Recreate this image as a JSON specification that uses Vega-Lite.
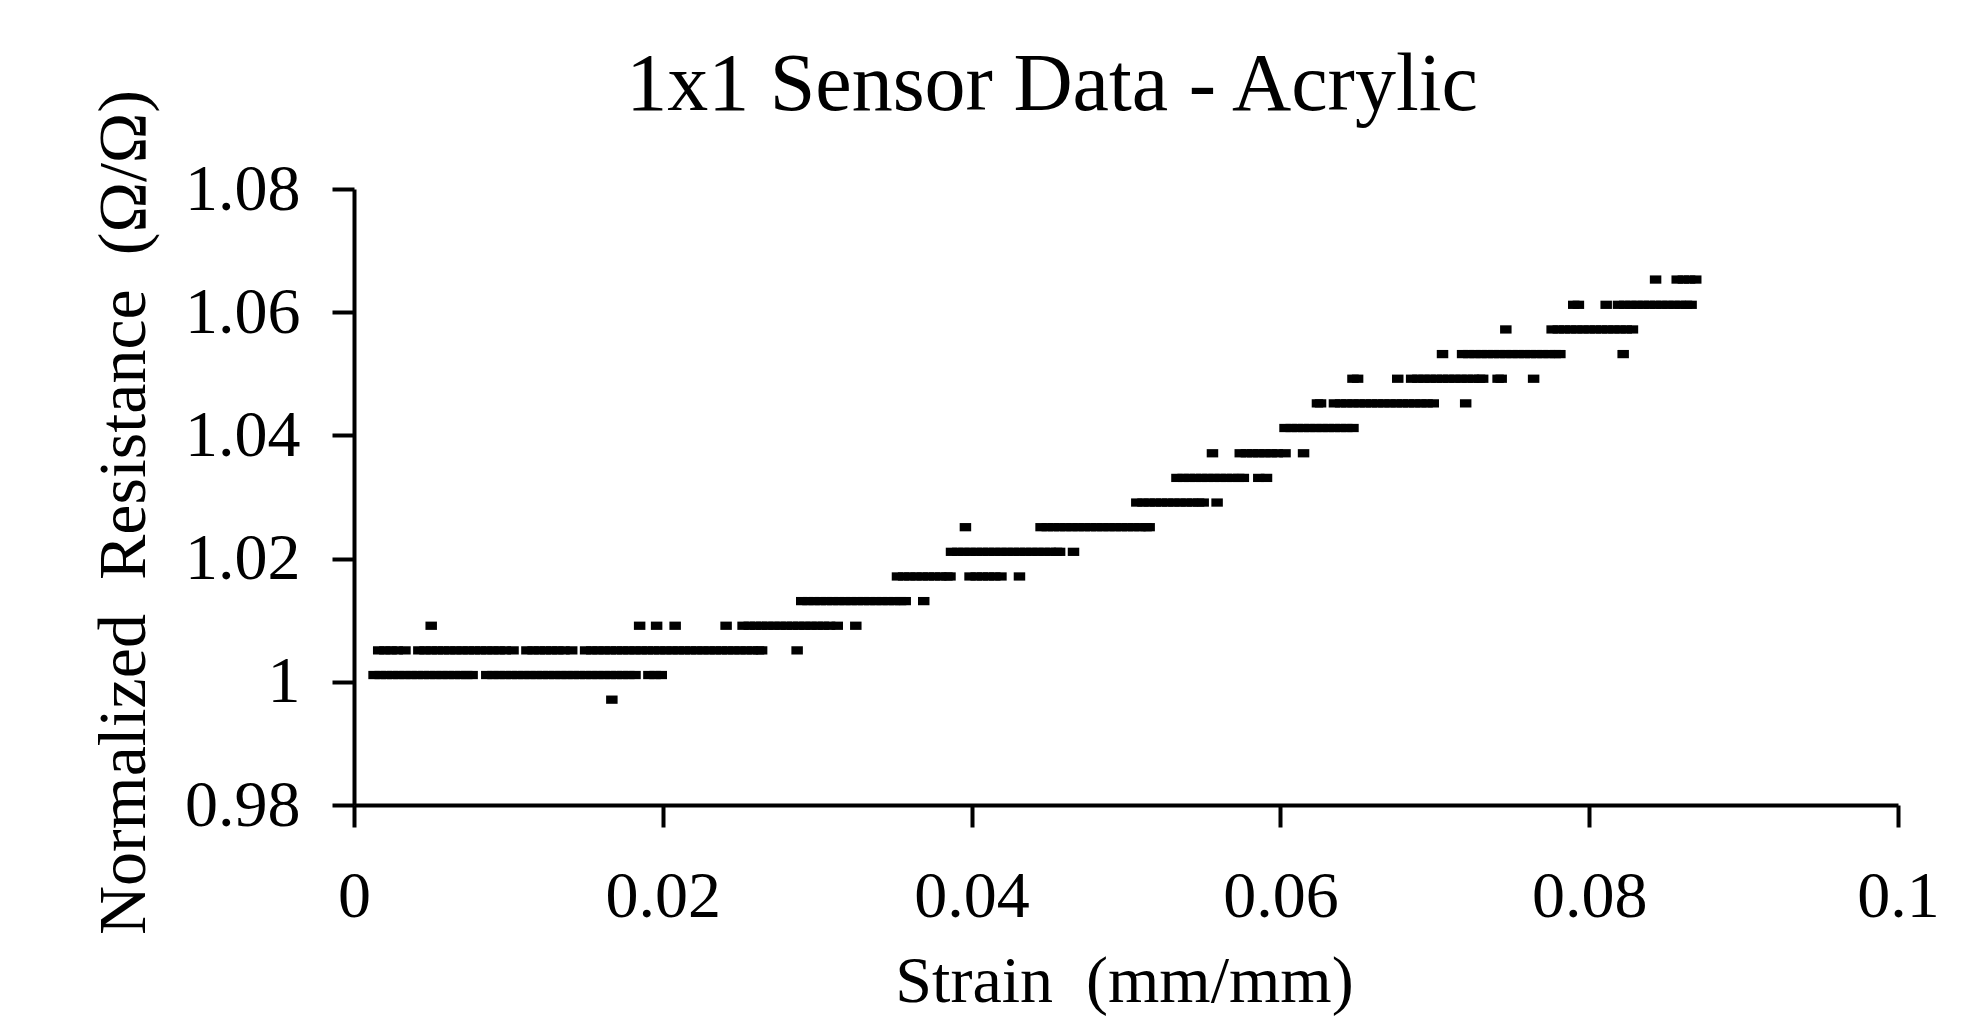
{
  "$schema": "https://vega.github.io/schema/vega-lite/v6.json",
  "autosize": "none",
  "width": 1544,
  "height": 616,
  "padding": {"left": 354, "top": 189, "right": 65, "bottom": 219},
  "background": "white",
  "config": {
    "view": {"stroke": null},
    "font": "Liberation Serif"
  },
  "title": {
    "text": "1x1 Sensor Data - Acrylic",
    "font": "Liberation Serif",
    "fontSize": 82,
    "fontWeight": "normal",
    "color": "black",
    "anchor": "middle",
    "baseline": "alphabetic",
    "offset": -103,
    "dx": -74
  },
  "data": {
    "values": [
      {"strain": 0.0013, "resistance": 1.0011}, {"strain": 0.0017, "resistance": 1.0011}, {"strain": 0.0021, "resistance": 1.0011}, {"strain": 0.0025, "resistance": 1.0011}, {"strain": 0.0029, "resistance": 1.0011}, {"strain": 0.0033, "resistance": 1.0011}, {"strain": 0.0037, "resistance": 1.0011}, {"strain": 0.0041, "resistance": 1.0011}, {"strain": 0.0045, "resistance": 1.0011}, {"strain": 0.0049, "resistance": 1.0011}, {"strain": 0.0053, "resistance": 1.0011}, {"strain": 0.0057, "resistance": 1.0011}, {"strain": 0.0061, "resistance": 1.0011}, {"strain": 0.0065, "resistance": 1.0011}, {"strain": 0.0069, "resistance": 1.0011}, {"strain": 0.0073, "resistance": 1.0011}, {"strain": 0.00765, "resistance": 1.0011},
      {"strain": 0.0086, "resistance": 1.0011}, {"strain": 0.0090, "resistance": 1.0011}, {"strain": 0.0094, "resistance": 1.0011}, {"strain": 0.0098, "resistance": 1.0011}, {"strain": 0.0102, "resistance": 1.0011}, {"strain": 0.0106, "resistance": 1.0011}, {"strain": 0.0110, "resistance": 1.0011}, {"strain": 0.0114, "resistance": 1.0011}, {"strain": 0.0118, "resistance": 1.0011}, {"strain": 0.0122, "resistance": 1.0011}, {"strain": 0.0126, "resistance": 1.0011}, {"strain": 0.0130, "resistance": 1.0011}, {"strain": 0.0134, "resistance": 1.0011}, {"strain": 0.0138, "resistance": 1.0011}, {"strain": 0.0142, "resistance": 1.0011}, {"strain": 0.0146, "resistance": 1.0011}, {"strain": 0.0150, "resistance": 1.0011}, {"strain": 0.0154, "resistance": 1.0011}, {"strain": 0.0158, "resistance": 1.0011}, {"strain": 0.0162, "resistance": 1.0011}, {"strain": 0.0166, "resistance": 1.0011}, {"strain": 0.0170, "resistance": 1.0011}, {"strain": 0.0174, "resistance": 1.0011}, {"strain": 0.0178, "resistance": 1.0011}, {"strain": 0.0182, "resistance": 1.0011},
      {"strain": 0.0191, "resistance": 1.0011}, {"strain": 0.0195, "resistance": 1.0011}, {"strain": 0.0199, "resistance": 1.0011},
      {"strain": 0.0016, "resistance": 1.0051}, {"strain": 0.0020, "resistance": 1.0051}, {"strain": 0.0024, "resistance": 1.0051}, {"strain": 0.0028, "resistance": 1.0051}, {"strain": 0.0033, "resistance": 1.0051},
      {"strain": 0.0042, "resistance": 1.0051}, {"strain": 0.0046, "resistance": 1.0051}, {"strain": 0.0050, "resistance": 1.0051}, {"strain": 0.0054, "resistance": 1.0051}, {"strain": 0.0058, "resistance": 1.0051}, {"strain": 0.0062, "resistance": 1.0051}, {"strain": 0.0066, "resistance": 1.0051}, {"strain": 0.0070, "resistance": 1.0051}, {"strain": 0.0074, "resistance": 1.0051}, {"strain": 0.0078, "resistance": 1.0051}, {"strain": 0.0082, "resistance": 1.0051}, {"strain": 0.0086, "resistance": 1.0051}, {"strain": 0.0090, "resistance": 1.0051}, {"strain": 0.0094, "resistance": 1.0051}, {"strain": 0.0098, "resistance": 1.0051}, {"strain": 0.0103, "resistance": 1.0051},
      {"strain": 0.0112, "resistance": 1.0051}, {"strain": 0.0116, "resistance": 1.0051}, {"strain": 0.0120, "resistance": 1.0051}, {"strain": 0.0124, "resistance": 1.0051}, {"strain": 0.0128, "resistance": 1.0051}, {"strain": 0.0132, "resistance": 1.0051}, {"strain": 0.0136, "resistance": 1.0051}, {"strain": 0.0141, "resistance": 1.0051},
      {"strain": 0.0150, "resistance": 1.0051}, {"strain": 0.0154, "resistance": 1.0051}, {"strain": 0.0158, "resistance": 1.0051}, {"strain": 0.0162, "resistance": 1.0051}, {"strain": 0.0166, "resistance": 1.0051}, {"strain": 0.0170, "resistance": 1.0051}, {"strain": 0.0174, "resistance": 1.0051}, {"strain": 0.0178, "resistance": 1.0051}, {"strain": 0.0182, "resistance": 1.0051}, {"strain": 0.0186, "resistance": 1.0051}, {"strain": 0.0190, "resistance": 1.0051}, {"strain": 0.0194, "resistance": 1.0051}, {"strain": 0.0198, "resistance": 1.0051}, {"strain": 0.0202, "resistance": 1.0051}, {"strain": 0.0206, "resistance": 1.0051}, {"strain": 0.0210, "resistance": 1.0051}, {"strain": 0.0214, "resistance": 1.0051}, {"strain": 0.0218, "resistance": 1.0051}, {"strain": 0.0222, "resistance": 1.0051}, {"strain": 0.0226, "resistance": 1.0051}, {"strain": 0.0230, "resistance": 1.0051}, {"strain": 0.0234, "resistance": 1.0051}, {"strain": 0.0238, "resistance": 1.0051}, {"strain": 0.0242, "resistance": 1.0051}, {"strain": 0.0246, "resistance": 1.0051}, {"strain": 0.0250, "resistance": 1.0051}, {"strain": 0.0254, "resistance": 1.0051}, {"strain": 0.0258, "resistance": 1.0051}, {"strain": 0.0262, "resistance": 1.0051}, {"strain": 0.0264, "resistance": 1.0051},
      {"strain": 0.0287, "resistance": 1.0051},
      {"strain": 0.0167, "resistance": 0.9971},
      {"strain": 0.0050, "resistance": 1.0091}, {"strain": 0.0185, "resistance": 1.0091}, {"strain": 0.0196, "resistance": 1.0091}, {"strain": 0.0208, "resistance": 1.0091}, {"strain": 0.0241, "resistance": 1.0091},
      {"strain": 0.0252, "resistance": 1.0091}, {"strain": 0.0256, "resistance": 1.0091}, {"strain": 0.0260, "resistance": 1.0091}, {"strain": 0.0264, "resistance": 1.0091}, {"strain": 0.0268, "resistance": 1.0091}, {"strain": 0.0272, "resistance": 1.0091}, {"strain": 0.0276, "resistance": 1.0091}, {"strain": 0.0280, "resistance": 1.0091}, {"strain": 0.0284, "resistance": 1.0091}, {"strain": 0.0288, "resistance": 1.0091}, {"strain": 0.0292, "resistance": 1.0091}, {"strain": 0.0296, "resistance": 1.0091}, {"strain": 0.0300, "resistance": 1.0091}, {"strain": 0.0304, "resistance": 1.0091}, {"strain": 0.0308, "resistance": 1.0091}, {"strain": 0.0313, "resistance": 1.0091},
      {"strain": 0.0325, "resistance": 1.0091},
      {"strain": 0.0290, "resistance": 1.0131}, {"strain": 0.0294, "resistance": 1.0131}, {"strain": 0.0298, "resistance": 1.0131}, {"strain": 0.0302, "resistance": 1.0131}, {"strain": 0.0306, "resistance": 1.0131}, {"strain": 0.0310, "resistance": 1.0131}, {"strain": 0.0314, "resistance": 1.0131}, {"strain": 0.0318, "resistance": 1.0131}, {"strain": 0.0322, "resistance": 1.0131}, {"strain": 0.0326, "resistance": 1.0131}, {"strain": 0.0330, "resistance": 1.0131}, {"strain": 0.0334, "resistance": 1.0131}, {"strain": 0.0338, "resistance": 1.0131}, {"strain": 0.0342, "resistance": 1.0131}, {"strain": 0.0346, "resistance": 1.0131}, {"strain": 0.0350, "resistance": 1.0131}, {"strain": 0.0354, "resistance": 1.0131}, {"strain": 0.0357, "resistance": 1.0131},
      {"strain": 0.0369, "resistance": 1.0131},
      {"strain": 0.0352, "resistance": 1.0171}, {"strain": 0.0356, "resistance": 1.0171}, {"strain": 0.0360, "resistance": 1.0171}, {"strain": 0.0364, "resistance": 1.0171}, {"strain": 0.0368, "resistance": 1.0171}, {"strain": 0.0372, "resistance": 1.0171}, {"strain": 0.0376, "resistance": 1.0171}, {"strain": 0.0380, "resistance": 1.0171}, {"strain": 0.0384, "resistance": 1.0171}, {"strain": 0.0386, "resistance": 1.0171},
      {"strain": 0.0399, "resistance": 1.0171}, {"strain": 0.0403, "resistance": 1.0171}, {"strain": 0.0407, "resistance": 1.0171}, {"strain": 0.0411, "resistance": 1.0171}, {"strain": 0.0415, "resistance": 1.0171}, {"strain": 0.0419, "resistance": 1.0171},
      {"strain": 0.0431, "resistance": 1.0171},
      {"strain": 0.0387, "resistance": 1.0211}, {"strain": 0.0391, "resistance": 1.0211}, {"strain": 0.0395, "resistance": 1.0211}, {"strain": 0.0399, "resistance": 1.0211}, {"strain": 0.0403, "resistance": 1.0211}, {"strain": 0.0407, "resistance": 1.0211}, {"strain": 0.0411, "resistance": 1.0211}, {"strain": 0.0415, "resistance": 1.0211}, {"strain": 0.0419, "resistance": 1.0211}, {"strain": 0.0423, "resistance": 1.0211}, {"strain": 0.0427, "resistance": 1.0211}, {"strain": 0.0431, "resistance": 1.0211}, {"strain": 0.0435, "resistance": 1.0211}, {"strain": 0.0439, "resistance": 1.0211}, {"strain": 0.0443, "resistance": 1.0211}, {"strain": 0.0447, "resistance": 1.0211}, {"strain": 0.0451, "resistance": 1.0211}, {"strain": 0.0455, "resistance": 1.0211}, {"strain": 0.0457, "resistance": 1.0211},
      {"strain": 0.0466, "resistance": 1.0211},
      {"strain": 0.0396, "resistance": 1.0251},
      {"strain": 0.0445, "resistance": 1.0251}, {"strain": 0.0449, "resistance": 1.0251}, {"strain": 0.0453, "resistance": 1.0251}, {"strain": 0.0457, "resistance": 1.0251}, {"strain": 0.0461, "resistance": 1.0251}, {"strain": 0.0465, "resistance": 1.0251}, {"strain": 0.0469, "resistance": 1.0251}, {"strain": 0.0473, "resistance": 1.0251}, {"strain": 0.0477, "resistance": 1.0251}, {"strain": 0.0481, "resistance": 1.0251}, {"strain": 0.0485, "resistance": 1.0251}, {"strain": 0.0489, "resistance": 1.0251}, {"strain": 0.0493, "resistance": 1.0251}, {"strain": 0.0497, "resistance": 1.0251}, {"strain": 0.0501, "resistance": 1.0251}, {"strain": 0.0505, "resistance": 1.0251}, {"strain": 0.0509, "resistance": 1.0251}, {"strain": 0.0513, "resistance": 1.0251}, {"strain": 0.0515, "resistance": 1.0251},
      {"strain": 0.0507, "resistance": 1.0291}, {"strain": 0.0511, "resistance": 1.0291}, {"strain": 0.0515, "resistance": 1.0291}, {"strain": 0.0519, "resistance": 1.0291}, {"strain": 0.0523, "resistance": 1.0291}, {"strain": 0.0527, "resistance": 1.0291}, {"strain": 0.0531, "resistance": 1.0291}, {"strain": 0.0535, "resistance": 1.0291}, {"strain": 0.0539, "resistance": 1.0291}, {"strain": 0.0543, "resistance": 1.0291}, {"strain": 0.0547, "resistance": 1.0291}, {"strain": 0.0550, "resistance": 1.0291},
      {"strain": 0.0559, "resistance": 1.0291},
      {"strain": 0.0533, "resistance": 1.0331}, {"strain": 0.0537, "resistance": 1.0331}, {"strain": 0.0541, "resistance": 1.0331}, {"strain": 0.0545, "resistance": 1.0331}, {"strain": 0.0549, "resistance": 1.0331}, {"strain": 0.0553, "resistance": 1.0331}, {"strain": 0.0557, "resistance": 1.0331}, {"strain": 0.0561, "resistance": 1.0331}, {"strain": 0.0565, "resistance": 1.0331}, {"strain": 0.0569, "resistance": 1.0331}, {"strain": 0.0573, "resistance": 1.0331}, {"strain": 0.0576, "resistance": 1.0331},
      {"strain": 0.0586, "resistance": 1.0331}, {"strain": 0.0591, "resistance": 1.0331},
      {"strain": 0.0556, "resistance": 1.0371},
      {"strain": 0.0574, "resistance": 1.0371}, {"strain": 0.0578, "resistance": 1.0371}, {"strain": 0.0582, "resistance": 1.0371}, {"strain": 0.0586, "resistance": 1.0371}, {"strain": 0.0590, "resistance": 1.0371}, {"strain": 0.0594, "resistance": 1.0371}, {"strain": 0.0598, "resistance": 1.0371}, {"strain": 0.0603, "resistance": 1.0371},
      {"strain": 0.0615, "resistance": 1.0371},
      {"strain": 0.0603, "resistance": 1.0412}, {"strain": 0.0607, "resistance": 1.0412}, {"strain": 0.0611, "resistance": 1.0412}, {"strain": 0.0615, "resistance": 1.0412}, {"strain": 0.0619, "resistance": 1.0412}, {"strain": 0.0623, "resistance": 1.0412}, {"strain": 0.0627, "resistance": 1.0412}, {"strain": 0.0631, "resistance": 1.0412}, {"strain": 0.0635, "resistance": 1.0412}, {"strain": 0.0639, "resistance": 1.0412}, {"strain": 0.0643, "resistance": 1.0412}, {"strain": 0.0647, "resistance": 1.0412},
      {"strain": 0.0624, "resistance": 1.0452}, {"strain": 0.0626, "resistance": 1.0452},
      {"strain": 0.0635, "resistance": 1.0452}, {"strain": 0.0639, "resistance": 1.0452}, {"strain": 0.0643, "resistance": 1.0452}, {"strain": 0.0647, "resistance": 1.0452}, {"strain": 0.0651, "resistance": 1.0452}, {"strain": 0.0655, "resistance": 1.0452}, {"strain": 0.0659, "resistance": 1.0452}, {"strain": 0.0663, "resistance": 1.0452}, {"strain": 0.0667, "resistance": 1.0452}, {"strain": 0.0671, "resistance": 1.0452}, {"strain": 0.0675, "resistance": 1.0452}, {"strain": 0.0679, "resistance": 1.0452}, {"strain": 0.0683, "resistance": 1.0452}, {"strain": 0.0687, "resistance": 1.0452}, {"strain": 0.0691, "resistance": 1.0452}, {"strain": 0.0695, "resistance": 1.0452}, {"strain": 0.0699, "resistance": 1.0452},
      {"strain": 0.0720, "resistance": 1.0452},
      {"strain": 0.0647, "resistance": 1.0492}, {"strain": 0.0650, "resistance": 1.0492},
      {"strain": 0.0676, "resistance": 1.0492},
      {"strain": 0.0685, "resistance": 1.0492}, {"strain": 0.0689, "resistance": 1.0492}, {"strain": 0.0693, "resistance": 1.0492}, {"strain": 0.0697, "resistance": 1.0492}, {"strain": 0.0701, "resistance": 1.0492}, {"strain": 0.0705, "resistance": 1.0492}, {"strain": 0.0709, "resistance": 1.0492}, {"strain": 0.0713, "resistance": 1.0492}, {"strain": 0.0717, "resistance": 1.0492}, {"strain": 0.0721, "resistance": 1.0492}, {"strain": 0.0725, "resistance": 1.0492}, {"strain": 0.0729, "resistance": 1.0492}, {"strain": 0.0731, "resistance": 1.0492},
      {"strain": 0.0741, "resistance": 1.0492}, {"strain": 0.0743, "resistance": 1.0492},
      {"strain": 0.0764, "resistance": 1.0492},
      {"strain": 0.0705, "resistance": 1.0532},
      {"strain": 0.0718, "resistance": 1.0532}, {"strain": 0.0722, "resistance": 1.0532}, {"strain": 0.0726, "resistance": 1.0532}, {"strain": 0.0730, "resistance": 1.0532}, {"strain": 0.0734, "resistance": 1.0532}, {"strain": 0.0738, "resistance": 1.0532}, {"strain": 0.0742, "resistance": 1.0532}, {"strain": 0.0746, "resistance": 1.0532}, {"strain": 0.0750, "resistance": 1.0532}, {"strain": 0.0754, "resistance": 1.0532}, {"strain": 0.0758, "resistance": 1.0532}, {"strain": 0.0762, "resistance": 1.0532}, {"strain": 0.0766, "resistance": 1.0532}, {"strain": 0.0770, "resistance": 1.0532}, {"strain": 0.0774, "resistance": 1.0532}, {"strain": 0.0778, "resistance": 1.0532}, {"strain": 0.0781, "resistance": 1.0532},
      {"strain": 0.0822, "resistance": 1.0532},
      {"strain": 0.0746, "resistance": 1.0572},
      {"strain": 0.0776, "resistance": 1.0572}, {"strain": 0.0780, "resistance": 1.0572}, {"strain": 0.0784, "resistance": 1.0572}, {"strain": 0.0788, "resistance": 1.0572}, {"strain": 0.0792, "resistance": 1.0572}, {"strain": 0.0796, "resistance": 1.0572}, {"strain": 0.0800, "resistance": 1.0572}, {"strain": 0.0804, "resistance": 1.0572}, {"strain": 0.0808, "resistance": 1.0572}, {"strain": 0.0812, "resistance": 1.0572}, {"strain": 0.0816, "resistance": 1.0572}, {"strain": 0.0820, "resistance": 1.0572}, {"strain": 0.0824, "resistance": 1.0572}, {"strain": 0.0828, "resistance": 1.0572},
      {"strain": 0.0790, "resistance": 1.0612}, {"strain": 0.0793, "resistance": 1.0612},
      {"strain": 0.0811, "resistance": 1.0612},
      {"strain": 0.0819, "resistance": 1.0612}, {"strain": 0.0823, "resistance": 1.0612}, {"strain": 0.0827, "resistance": 1.0612}, {"strain": 0.0831, "resistance": 1.0612}, {"strain": 0.0835, "resistance": 1.0612}, {"strain": 0.0839, "resistance": 1.0612}, {"strain": 0.0843, "resistance": 1.0612}, {"strain": 0.0847, "resistance": 1.0612}, {"strain": 0.0851, "resistance": 1.0612}, {"strain": 0.0855, "resistance": 1.0612}, {"strain": 0.0859, "resistance": 1.0612}, {"strain": 0.0863, "resistance": 1.0612}, {"strain": 0.0866, "resistance": 1.0612},
      {"strain": 0.0843, "resistance": 1.0653},
      {"strain": 0.0857, "resistance": 1.0653}, {"strain": 0.0861, "resistance": 1.0653}, {"strain": 0.0865, "resistance": 1.0653}, {"strain": 0.0869, "resistance": 1.0653}
    ]
  },
  "mark": {
    "type": "point",
    "filled": true,
    "shape": "M-1,-0.72L1,-0.72L1,0.72L-1,0.72Z",
    "size": 132,
    "color": "black",
    "opacity": 1,
    "strokeWidth": 0,
    "clip": true
  },
  "encoding": {
    "x": {
      "field": "strain",
      "type": "quantitative",
      "scale": {"domain": [0, 0.1], "nice": false, "zero": false},
      "axis": {
        "values": [0, 0.02, 0.04, 0.06, 0.08, 0.1],
        "format": ".2~f",
        "grid": false,
        "domainColor": "black",
        "domainWidth": 4,
        "tickColor": "black",
        "tickWidth": 4,
        "tickSize": 22,
        "labelFont": "Liberation Serif",
        "labelFontSize": 66,
        "labelColor": "black",
        "labelBaseline": "alphabetic",
        "labelPadding": 89,
        "labelFlush": false,
        "labelOverlap": false,
        "title": "Strain\u00a0 (mm/mm)",
        "titleFont": "Liberation Serif",
        "titleFontSize": 66,
        "titleFontWeight": "normal",
        "titleColor": "black",
        "titleBaseline": "alphabetic",
        "titleY": 196,
        "titleX": 770
      }
    },
    "y": {
      "field": "resistance",
      "type": "quantitative",
      "scale": {"domain": [0.98, 1.08], "nice": false, "zero": false},
      "axis": {
        "values": [0.98, 1.0, 1.02, 1.04, 1.06, 1.08],
        "format": ".2~f",
        "grid": false,
        "domainColor": "black",
        "domainWidth": 4,
        "tickColor": "black",
        "tickWidth": 4,
        "tickSize": 22,
        "labelFont": "Liberation Serif",
        "labelFontSize": 66,
        "labelColor": "black",
        "labelPadding": 32,
        "labelFlush": false,
        "labelOverlap": false,
        "title": "Normalized\u00a0 Resistance\u00a0 (Ω/Ω)",
        "titleFont": "Liberation Serif",
        "titleFontSize": 68,
        "titleFontWeight": "normal",
        "titleColor": "black",
        "titleBaseline": "alphabetic",
        "titleX": -210,
        "titleY": 323
      }
    }
  }
}
